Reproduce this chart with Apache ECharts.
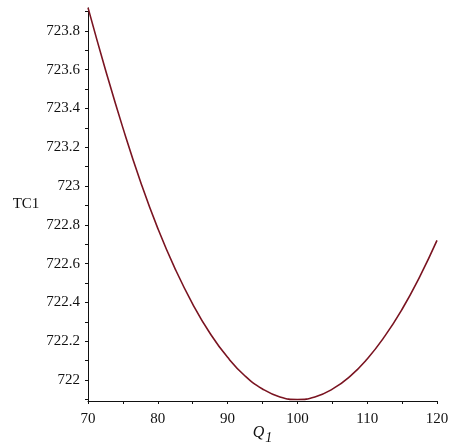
<!DOCTYPE html>
<html>
<head>
<meta charset="utf-8">
<script src="https://cdn.jsdelivr.net/npm/echarts@6/dist/echarts.min.js"></script>
<style>
  html, body { margin: 0; padding: 0; background: #fff; }
  #chart { width: 451px; height: 447px; }
</style>
</head>
<body>
<div id="chart"></div>
<script>
// Q1 values (x) and TC1 values (y)
var q1 = [70, 72.5, 75, 77.5, 80, 82.5, 85, 87.5, 90, 92.5, 95, 97.5,
          100, 102.5, 105, 107.5, 110, 112.5, 115, 117.5, 120];
var tc1 = [723.92, 723.60, 723.30, 723.025, 722.782, 722.572, 722.392, 722.240,
           722.117, 722.021, 721.954, 721.913, 721.900, 721.913, 721.953,
           722.018, 722.109, 722.225, 722.365, 722.531, 722.720];

// tick marks and labels
var xTicks = [70, 75, 80, 85, 90, 95, 100, 105, 110, 115, 120];
var xLabels = [70, 80, 90, 100, 110, 120];
var yTicks = [721.9, 722, 722.1, 722.2, 722.3, 722.4, 722.5, 722.6, 722.7,
              722.8, 722.9, 723, 723.1, 723.2, 723.3, 723.4, 723.5, 723.6,
              723.7, 723.8, 723.9];
var yLabels = [722, 722.2, 722.4, 722.6, 722.8, 723, 723.2, 723.4, 723.6, 723.8];

var font = 'Liberation Serif';
var points = [];
for (var i = 0; i < q1.length; i++) {
  points.push([q1[i], tc1[i]]);
}

var chart = echarts.init(document.getElementById('chart'));
chart.setOption({
  animation: false,
  backgroundColor: '#fff',
  grid: { left: 88, right: 14, top: 8, bottom: 46, containLabel: false, outerBoundsMode: 'none' },
  xAxis: {
    type: 'value',
    min: 70,
    max: 120,
    name: '{q|Q}{s|1}',
    nameLocation: 'middle',
    nameGap: 24,
    nameMoveOverlap: false,
    nameTextStyle: {
      rich: {
        q: { fontFamily: font, fontStyle: 'italic', fontSize: 16, color: '#111', verticalAlign: 'top' },
        s: { fontFamily: font, fontStyle: 'italic', fontSize: 14, color: '#111', verticalAlign: 'top', padding: [6, 0, 0, 1] }
      }
    },
    axisLine: { show: true, lineStyle: { color: '#111', width: 1 } },
    axisTick: { show: true, length: 3, lineStyle: { color: '#111' }, customValues: xTicks },
    axisLabel: { fontFamily: font, fontSize: 15, color: '#111', margin: 11, customValues: xLabels },
    splitLine: { show: false }
  },
  yAxis: {
    type: 'value',
    min: 721.892,
    max: 723.918,
    name: 'TC1',
    nameLocation: 'middle',
    nameRotate: 0,
    nameGap: 62,
    nameMoveOverlap: false,
    nameTextStyle: { fontFamily: font, fontSize: 15, color: '#111', align: 'center', verticalAlign: 'middle' },
    axisLine: { show: true, lineStyle: { color: '#111', width: 1 } },
    axisTick: { show: true, length: 3, lineStyle: { color: '#111' }, customValues: yTicks },
    axisLabel: { fontFamily: font, fontSize: 15, color: '#111', margin: 8, customValues: yLabels },
    splitLine: { show: false }
  },
  series: [{
    type: 'line',
    data: points,
    smooth: true,
    showSymbol: false,
    lineStyle: { color: '#7a1421', width: 1.6 }
  }]
});
</script>
</body>
</html>
